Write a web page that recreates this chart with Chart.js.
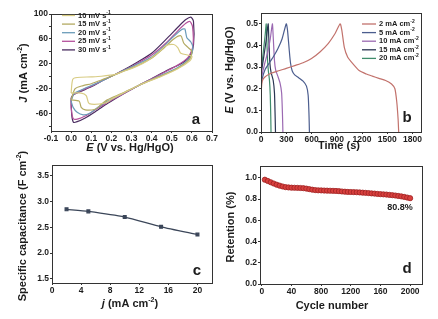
<!DOCTYPE html>
<html>
<head>
<meta charset="utf-8">
<script src="https://cdn.jsdelivr.net/npm/chart.js@4.4.1/dist/chart.umd.min.js"></script>
<style>
  html, body { margin: 0; padding: 0; background: #fff; }
  body { width: 438px; height: 319px; position: relative; overflow: hidden; }
  .panel { position: absolute; }
</style>
</head>
<body>
<div class="panel" style="left:0;top:0;width:219px;height:160px"><canvas id="chartA"></canvas></div>
<div class="panel" style="left:219px;top:0;width:219px;height:160px"><canvas id="chartB"></canvas></div>
<div class="panel" style="left:0;top:140px;width:219px;height:179px"><canvas id="chartC"></canvas></div>
<div class="panel" style="left:219px;top:160px;width:219px;height:159px"><canvas id="chartD"></canvas></div>
<script>
// ---- panel a: CV loops, [E (V), J (mA cm-2)] ----
var cvLabels = ['10 mV s^-1^', '15 mV s^-1^', '20 mV s^-1^', '25 mV s^-1^', '30 mV s^-1^'];
var cvColors = ['#d8cc84', '#b3aa62', '#6b9cb9', '#b5529c', '#4a2c60'];
var cv10 = [[0.0,-27],[0.008,-5],[0.03,-2],[0.1,-1],[0.15,0],[0.22,3],[0.26,8],[0.32,15],[0.38,25],[0.44,40],[0.47,49],[0.51,51],[0.53,46],[0.545,37],[0.6,32],
            [0.59,25],[0.53,12],[0.45,0],[0.34,-14],[0.26,-27],[0.2,-37],[0.17,-43],[0.09,-44],[0.075,-31],[0.05,-27],[0.0,-27]];
var cv15 = [[0.0,-38],[0.02,-20],[0.06,-15],[0.1,-12],[0.15,-6],[0.2,0],[0.26,8],[0.32,16],[0.4,29],[0.46,45],[0.51,60],[0.545,65],[0.56,53],[0.585,45],[0.6,40],
            [0.59,28],[0.53,13],[0.45,1],[0.34,-14],[0.25,-28],[0.18,-38],[0.14,-48],[0.12,-53],[0.07,-54],[0.05,-50],[0.04,-40],[0.0,-38]];
var cv20 = [[0.0,-40],[0.015,-28],[0.05,-22],[0.1,-15],[0.15,-8],[0.2,0],[0.26,9],[0.32,18],[0.4,31],[0.46,48],[0.51,64],[0.55,75],[0.565,76],[0.575,62],[0.595,55],[0.605,46],
            [0.59,30],[0.53,14],[0.45,2],[0.34,-14],[0.25,-29],[0.17,-42],[0.12,-53],[0.09,-60],[0.06,-62],[0.03,-58],[0.01,-50],[0.0,-40]];
var cv25 = [[0.0,-38],[0.01,-30],[0.05,-23],[0.1,-16],[0.15,-8],[0.2,0],[0.26,9],[0.32,19],[0.4,34],[0.47,53],[0.53,73],[0.57,85],[0.59,88],[0.603,80],[0.605,48],
            [0.58,30],[0.52,16],[0.45,4],[0.34,-14],[0.25,-30],[0.18,-42],[0.12,-54],[0.07,-64],[0.03,-69],[0.01,-68],[0.0,-50],[0.0,-38]];
var cv30 = [[0.0,-35],[0.01,-30],[0.05,-24],[0.1,-17],[0.15,-8],[0.2,0],[0.26,10],[0.32,21],[0.4,37],[0.48,62],[0.54,82],[0.57,91],[0.595,95],[0.608,88],[0.608,50],
            [0.59,32],[0.55,21],[0.48,10],[0.4,-4],[0.34,-14],[0.25,-30],[0.18,-44],[0.12,-57],[0.07,-67],[0.03,-73],[0.012,-74],[0.003,-62],[0.0,-35]];
var cvSeries = [cv10, cv15, cv20, cv25, cv30];
var aXTicks = [-0.1, 0.0, 0.1, 0.2, 0.3, 0.4, 0.5, 0.6, 0.7];
var aYTicks = [-80, -60, -40, -20, 0, 20, 40, 60, 80, 100];
var aYLabels = [-60, -20, 20, 60, 100];

// ---- panel b: charge/discharge, [t (s), E (V)] ----
var gcdLabels = ['2 mA cm^-2^', '5 mA cm^-2^', '10 mA cm^-2^', '15 mA cm^-2^', '20 mA cm^-2^'];
var gcdColors = ['#c2726c', '#4b5d8e', '#9b69b2', '#2a3552', '#3f8c6b'];
var gcd2 = [[0,0.14],[5,0.2],[15,0.235],[40,0.252],[100,0.268],[200,0.282],[300,0.294],[400,0.307],[500,0.32],[600,0.34],[700,0.37],[800,0.41],[880,0.455],[940,0.5],
            [960,0.47],[990,0.39],[1030,0.345],[1070,0.325],[1165,0.284],[1250,0.268],[1322,0.258],[1400,0.248],[1480,0.238],[1550,0.222],[1590,0.2],[1612,0.14],[1628,0.06],[1635,0]];
var gcd5 = [[0,0.2],[10,0.24],[50,0.29],[100,0.32],[150,0.35],[200,0.385],[250,0.43],[300,0.5],
            [315,0.47],[335,0.38],[350,0.32],[370,0.283],[400,0.264],[450,0.25],[500,0.235],[540,0.212],[560,0.17],[570,0.08],[575,0]];
var gcd10 = [[0,0.22],[10,0.26],[40,0.31],[80,0.37],[110,0.43],[135,0.5],
             [145,0.44],[160,0.33],[175,0.285],[200,0.258],[225,0.228],[245,0.18],[255,0.08],[260,0]];
var gcd15 = [[0,0.25],[10,0.29],[30,0.34],[60,0.42],[85,0.5],
             [92,0.44],[105,0.32],[120,0.275],[145,0.238],[160,0.18],[168,0.07],[172,0]];
var gcd20 = [[0,0.27],[10,0.31],[30,0.38],[50,0.45],[62,0.5],
             [68,0.44],[78,0.33],[88,0.28],[100,0.242],[110,0.17],[116,0.07],[119,0]];
var gcdSeries = [gcd2, gcd5, gcd10, gcd15, gcd20];
var bXTicks = [0, 300, 600, 900, 1200, 1500, 1800];
var bYTicks = [0.0, 0.1, 0.2, 0.3, 0.4, 0.5];

// ---- panel c: specific capacitance vs current density ----
var capJ = [2, 5, 10, 15, 20];
var capC = [2.85, 2.81, 2.70, 2.51, 2.36];
var cXTicks = [0, 4, 8, 12, 16, 20];
var cYTicks = [1.5, 2.0, 2.5, 3.0, 3.5];

// ---- panel d: retention vs cycle number ----
var cycles = [40,80,120,160,200,240,280,320,360,400,440,480,520,560,600,640,680,720,760,800,
              840,880,920,960,1000,1040,1080,1120,1160,1200,1240,1280,1320,1360,1400,1440,1480,1520,1560,1600,
              1640,1680,1720,1760,1800,1840,1880,1920,1960,2000];
var retention = [0.982,0.97,0.958,0.946,0.935,0.926,0.918,0.912,0.909,0.907,0.906,0.905,0.904,0.902,0.898,0.893,0.888,0.884,0.882,0.881,
                 0.88,0.879,0.878,0.877,0.876,0.874,0.871,0.869,0.867,0.866,0.865,0.864,0.862,0.86,0.858,0.856,0.853,0.851,0.848,0.846,
                 0.844,0.842,0.839,0.836,0.833,0.829,0.825,0.82,0.814,0.808];
var dXTicks = [0, 400, 800, 1200, 1600, 2000];
var dXLabels = ['0', '40', '800', '1200', '160', '2000'];
var dYTicks = [0.0, 0.2, 0.4, 0.6, 0.8, 1.0];

var FONT = "'Liberation Sans', Arial, sans-serif";
var INK = '#1c1c1c';

// text with *italic* and ^superscript^ parts
function drawRich(ctx, str, x, y, size, rot, align) {
  var parts = str.split(/(\*[^*]+\*|\^[^^]+\^)/).filter(function(p) { return p.length; });
  var segs = parts.map(function(p) {
    if (p[0] === '*') return {t: p.slice(1, -1), it: true};
    if (p[0] === '^') return {t: p.slice(1, -1), sup: true};
    return {t: p};
  });
  function font(s) {
    var sz = s.sup ? Math.round(size * 0.62) : size;
    return (s.it ? 'italic ' : '') + 'bold ' + sz + 'px ' + FONT;
  }
  ctx.save();
  ctx.translate(x, y);
  if (rot) ctx.rotate(-Math.PI / 2);
  var w = 0;
  segs.forEach(function(s) { ctx.font = font(s); w += ctx.measureText(s.t).width; });
  var cx = align === 'left' ? 0 : -w / 2;
  ctx.textBaseline = 'middle';
  ctx.textAlign = 'left';
  ctx.fillStyle = INK;
  segs.forEach(function(s) {
    ctx.font = font(s);
    ctx.fillText(s.t, cx, s.sup ? -size * 0.35 : 0);
    cx += ctx.measureText(s.t).width;
  });
  ctx.restore();
}

var decor = {
  id: 'decor',
  afterDraw: function(chart, args, o) {
    var ctx = chart.ctx, a = chart.chartArea;
    ctx.save();
    ctx.strokeStyle = '#333';
    ctx.lineWidth = 1;
    ctx.strokeRect(Math.round(a.left) + 0.5, Math.round(a.top) + 0.5, Math.round(a.right - a.left), Math.round(a.bottom - a.top));
    ctx.restore();
    if (o.xTitle) drawRich(ctx, o.xTitle[0], o.xTitle[1], o.xTitle[2], 11, false);
    if (o.yTitle) drawRich(ctx, o.yTitle[0], o.yTitle[1], o.yTitle[2], 11, true);
    if (o.letter) {
      ctx.save();
      ctx.font = 'bold 15px ' + FONT;
      ctx.fillStyle = INK;
      ctx.textAlign = 'center';
      ctx.textBaseline = 'middle';
      ctx.fillText(o.letter[0], o.letter[1], o.letter[2]);
      ctx.restore();
    }
    if (o.note) drawRich(ctx, o.note[0], o.note[1], o.note[2], 9, false);
    if (o.legend) {
      var L = o.legend;
      chart.data.datasets.forEach(function(ds, i) {
        var yy = L.y + i * L.dy;
        ctx.save();
        ctx.strokeStyle = ds.borderColor;
        ctx.lineWidth = 1.3;
        ctx.beginPath();
        ctx.moveTo(L.x, yy);
        ctx.lineTo(L.x + L.len, yy);
        ctx.stroke();
        ctx.restore();
        drawRich(ctx, L.labels[i], L.x + L.len + 3, yy, 7.5, false, 'left');
      });
    }
  }
};
Chart.register(decor);

function fixedTicks(vals) {
  return function(scale) { scale.ticks = vals.map(function(v) { return {value: v}; }); };
}
function axis(min, max, vals, fmt, fit, isY) {
  return {
    type: 'linear', min: min, max: max,
    afterBuildTicks: fixedTicks(vals),
    afterFit: function(s) { if (isY) s.width = fit; else s.height = fit; },
    grid: {display: true, drawOnChartArea: false, drawTicks: true, tickLength: 2, color: '#333'},
    border: {display: false},
    ticks: {
      color: INK, padding: 1, maxRotation: 0, autoSkip: false,
      font: {family: FONT, size: 8.5, weight: 'bold'},
      callback: fmt
    }
  };
}
function baseOptions(pad, xs, ys, decorOpts) {
  return {
    animation: false,
    responsive: true,
    maintainAspectRatio: false,
    layout: {padding: pad},
    plugins: {legend: {display: false}, tooltip: {enabled: false}, decor: decorOpts},
    scales: {x: xs, y: ys}
  };
}
function toXY(arr) { return arr.map(function(p) { return {x: p[0], y: p[1]}; }); }

new Chart(document.getElementById('chartA'), {
  type: 'scatter',
  data: {
    datasets: cvSeries.map(function(s, i) {
      return {label: cvLabels[i], data: toXY(s), showLine: true, borderColor: cvColors[i], borderWidth: 1.2, pointRadius: 0, tension: 0.25};
    })
  },
  options: baseOptions({top: 14, right: 7, left: 0, bottom: 0},
    axis(-0.1, 0.7, aXTicks, function(v) { return v.toFixed(1); }, 29, false),
    axis(-88, 100, aYTicks, function(v) { return aYLabels.indexOf(v) >= 0 ? String(v) : ''; }, 51, true),
    {xTitle: ['*E* (V vs. Hg/HgO)', 130, 148], yTitle: ['*J* (mA cm^-2^)', 24, 73], letter: ['a', 196, 120],
     legend: {x: 62, y: 15.5, dy: 8.6, len: 13, labels: cvLabels}})
});

new Chart(document.getElementById('chartB'), {
  type: 'scatter',
  data: {
    datasets: gcdSeries.map(function(s, i) {
      return {label: gcdLabels[i], data: toXY(s), showLine: true, borderColor: gcdColors[i], borderWidth: 1.2, pointRadius: 0, tension: 0.2};
    })
  },
  options: baseOptions({top: 13, right: 17, left: 0, bottom: 0},
    axis(0, 1900, bXTicks, function(v) { return String(v); }, 28, false),
    axis(0, 0.55, bYTicks, function(v) { return v.toFixed(1); }, 42, true),
    {xTitle: ['Time (s)', 120, 146], yTitle: ['*E* (V vs. Hg/HgO)', 11, 70], letter: ['b', 188, 118],
     legend: {x: 143, y: 24, dy: 8.6, len: 14, labels: gcdLabels}})
});

new Chart(document.getElementById('chartC'), {
  type: 'line',
  data: {
    datasets: [{data: capJ.map(function(j, i) { return {x: j, y: capC[i]}; }), borderColor: '#3b4659', backgroundColor: '#3b4659',
      borderWidth: 1.2, pointStyle: 'rect', pointRadius: 2, tension: 0.2}]
  },
  options: baseOptions({top: 25, right: 7, left: 0, bottom: 0},
    axis(0, 22, cXTicks, function(v) { return String(v); }, 36, false),
    axis(1.42, 3.71, cYTicks, function(v) { return v.toFixed(1); }, 52, true),
    {xTitle: ['*j* (mA cm^-2^)', 130, 164], yTitle: ['Specific capacitance (F cm^-2^)', 23, 86], letter: ['c', 197, 131]})
});

new Chart(document.getElementById('chartD'), {
  type: 'scatter',
  data: {
    datasets: [{data: cycles.map(function(c, i) { return {x: c, y: retention[i]}; }), borderColor: '#9e2222', backgroundColor: '#d8403e',
      borderWidth: 0.8, pointRadius: 2.6}]
  },
  options: baseOptions({top: 5, right: 16, left: 0, bottom: 0},
    axis(-25, 2160, dXTicks, function(v, i) { return dXLabels[i]; }, 35, false),
    axis(0, 1.11, dYTicks, function(v) { return v.toFixed(1); }, 41, true),
    {xTitle: ['Cycle number', 113, 146], yTitle: ['Retention (%)', 12, 67], letter: ['d', 188, 109], note: ['80.8%', 181, 48]})
});
</script>
</body>
</html>
